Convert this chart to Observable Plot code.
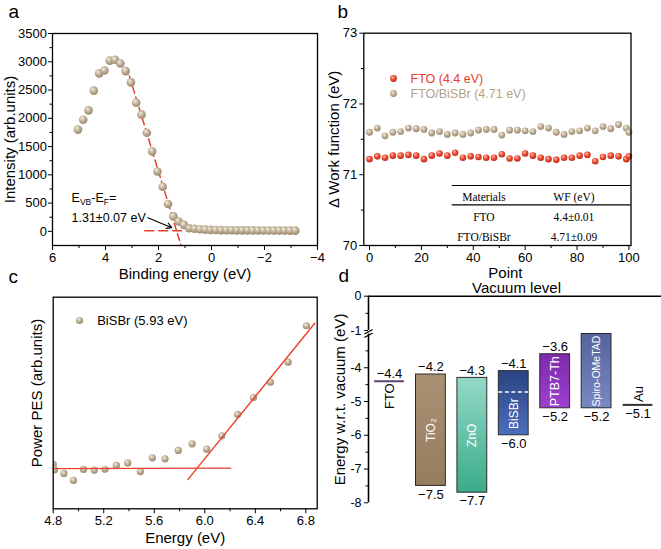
<!DOCTYPE html>
<html>
<head>
<meta charset="utf-8">
<script src="https://cdn.jsdelivr.net/npm/d3@7"></script>
<script src="https://cdn.jsdelivr.net/npm/@observablehq/plot@0.6"></script>
<style>
html,body{margin:0;padding:0;background:#fff;}
#fig{position:relative;width:661px;height:549px;overflow:hidden;background:#fff;}
#fig svg{position:absolute;left:0;top:0;}
</style>
</head>
<body>
<div id="fig"></div>
<script>
// ================= DATA =================
// Panel a: UPS spectrum
const aBinding = [5.04, 4.84, 4.64, 4.44, 4.24, 4.04, 3.84, 3.64, 3.44, 3.24, 3.04, 2.84, 2.64, 2.44, 2.24, 2.04, 1.84, 1.64, 1.44, 1.24, 1.04, 0.84, 0.64, 0.44, 0.24, 0.04, -0.16, -0.36, -0.56, -0.76, -0.96, -1.16, -1.36, -1.56, -1.76, -1.96, -2.16, -2.36, -2.56, -2.76, -2.96, -3.16];
const aIntensity = [1800, 1975, 2140, 2490, 2795, 2845, 3020, 3035, 2970, 2835, 2635, 2275, 2065, 1745, 1415, 1060, 790, 485, 265, 175, 115, 55, 45, 38, 30, 26, 24, 22, 21, 20, 18, 18, 17, 17, 16, 16, 15, 15, 14, 14, 13, 13];
const aFitSlopeX = [3.1, 1.15];
const aFitSlopeY = [2750, -246];
const aFitBaseX = [2.52, -3.24];
const aFitBaseY = [10, 10];
const aArrowFrom = [2.40, 240];
const aArrowTo = [1.50, 65];
const aXTicks = [6, 4, 2, 0, -2, -4];
const aXMinor = [5, 3, 1, -1, -3];
const aYTicks = [0, 500, 1000, 1500, 2000, 2500, 3000, 3500];
const aYMinor = [250, 750, 1250, 1750, 2250, 2750, 3250];

// Panel b: work function mapping
const bPoint = [0, 3, 6, 9, 12, 15, 18, 21, 24, 27, 30, 33, 36, 39, 42, 45, 48, 51, 54, 57, 60, 63, 66, 69, 72, 75, 78, 81, 84, 87, 90, 93, 96, 99, 100];
const bFTO = [71.22, 71.26, 71.24, 71.27, 71.27, 71.28, 71.27, 71.22, 71.27, 71.30, 71.27, 71.31, 71.24, 71.26, 71.25, 71.24, 71.24, 71.29, 71.23, 71.23, 71.30, 71.27, 71.24, 71.22, 71.21, 71.24, 71.24, 71.27, 71.28, 71.19, 71.25, 71.27, 71.26, 71.22, 71.26];
const bBiSBr = [71.60, 71.66, 71.55, 71.60, 71.61, 71.66, 71.65, 71.64, 71.59, 71.61, 71.57, 71.59, 71.57, 71.59, 71.63, 71.64, 71.64, 71.56, 71.63, 71.63, 71.62, 71.61, 71.68, 71.66, 71.60, 71.57, 71.61, 71.62, 71.66, 71.62, 71.68, 71.65, 71.71, 71.66, 71.60];
const bSeriesNames = ["FTO (4.4 eV)", "FTO/BiSBr (4.71 eV)"];
const bXTicks = [0, 20, 40, 60, 80, 100];
const bXMinor = [10, 30, 50, 70, 90];
const bYTicks = [70, 71, 72, 73];
const bYMinor = [70.5, 71.5, 72.5];
const tableHeader = ["Materials", "WF (eV)"];
const tableMaterial = ["FTO", "FTO/BiSBr"];
const tableWF = ["4.4\u00B10.01", "4.71\u00B10.09"];

// Panel c: photoelectron yield
const cEnergy = [4.80, 4.81, 4.885, 4.96, 5.04, 5.125, 5.21, 5.30, 5.39, 5.49, 5.585, 5.685, 5.79, 5.90, 6.015, 6.135, 6.26, 6.385, 6.52, 6.66, 6.805];
const cPES = [21, 18.5, 16.7, 13.4, 18.6, 18.3, 18.7, 20.5, 21.7, 17.6, 24.1, 23.6, 27.6, 30.7, 28.2, 34.5, 44.6, 52.6, 59.8, 69.3, 86.5];
const cFitBaseX = [4.785, 6.205];
const cFitBaseY = [19.0, 19.2];
const cFitSlopeX = [5.867, 6.871];
const cFitSlopeY = [13.9, 87.7];
const cXTicks = [4.8, 5.2, 5.6, 6.0, 6.4, 6.8];
const cXMinor = [5.0, 5.4, 5.8, 6.2, 6.6];
const cLegend = ["BiSBr (5.93 eV)"];

// Panel d: energy level diagram
const dOrder = ["FTO", "TiO\u2082", "ZnO", "BiSBr", "PTB7-Th", "Spiro-OMeTAD", "Au"];
const dBarNames = ["TiO\u2082", "ZnO", "BiSBr", "PTB7-Th", "Spiro-OMeTAD"];
const dBarTop = [-4.2, -4.3, -4.1, -3.6, -3.0];
const dBarBottom = [-7.5, -7.7, -6.0, -5.2, -5.2];
const dBarTopShown = [true, true, true, true, false];
const dLineNames = ["FTO", "Au"];
const dLineLevel = [-4.4, -5.1];
const dFermiBiSBr = -4.72;
const dYTicks = [0, -1, -4, -5, -6, -7, -8];
const dYMinor = [-0.5, -3.5, -4.5, -5.5, -6.5, -7.5];

// ================= STYLE / LAYOUT =================
const W = 661, H = 549;
const FONT = "'Liberation Sans', Arial, Helvetica, sans-serif";
const SERIF = "'Liberation Serif', 'Times New Roman', serif";
const RED = "#e8402a", TAN = "#b3a287";
const fig = document.getElementById("fig");
function base(f, extra = {}) {
  return {
    width: W, height: H,
    marginLeft: f.l, marginRight: W - f.r, marginTop: f.t, marginBottom: H - f.b,
    style: {background: "transparent", fontFamily: FONT, fontSize: "13px", color: "#000", overflow: "visible"},
    ...extra
  };
}
const fmtD = d3.format("d");
const fmt1 = d3.format(".1f");
const T = d => d;
const yTitle = (s, dx, dy = 0) => Plot.text([s], {text: T, frameAnchor: "left", dx, dy, rotate: -90, textAnchor: "middle", lineAnchor: "middle", fontSize: 15});

// ---------------- Panel a ----------------
const fA = {l: 52, r: 317, t: 33, b: 245};
const aData = aBinding.map((x, i) => ({x, y: aIntensity[i]}));
const aSlope = aFitSlopeX.map((x, i) => ({x, y: aFitSlopeY[i]}));
const aBase = aFitBaseX.map((x, i) => ({x, y: aFitBaseY[i]}));
const plotA = Plot.plot({
  ...base(fA),
  x: {domain: [6, -4]},
  y: {domain: [-250, 3500]},
  marks: [
    Plot.axisX({ticks: aXTicks, tickSize: 5, tickPadding: 2, label: null}),
    Plot.axisX({ticks: aXMinor, tickSize: 3, fill: "none", label: null}),
    Plot.axisY({ticks: aYTicks, tickSize: 4, tickPadding: 1.5, tickFormat: fmtD, label: null}),
    Plot.axisY({ticks: aYMinor, tickSize: 2.5, fill: "none", label: null}),
    Plot.line(aSlope, {x: "x", y: "y", stroke: RED, strokeWidth: 1.5, strokeDasharray: "7,4", clip: true}),
    Plot.line(aBase, {x: "x", y: "y", stroke: RED, strokeWidth: 1.5, strokeDasharray: "9,5", clip: true}),
    Plot.dot(aData, {x: "x", y: "y", r: 4.3, fill: "url(#sphTan)"}),
    Plot.arrow([0], {x1: aArrowFrom[0], y1: aArrowFrom[1], x2: aArrowTo[0], y2: aArrowTo[1], stroke: "#000", strokeWidth: 1.2, headLength: 7}),
    Plot.frame({strokeWidth: 1.3}),
    // annotation E_VB - E_F
    Plot.text(["E"], {text: T, frameAnchor: "top-left", dx: 19, dy: 168, textAnchor: "start", lineAnchor: "bottom", fontSize: 12.5}),
    Plot.text(["VB"], {text: T, frameAnchor: "top-left", dx: 27.4, dy: 171, textAnchor: "start", lineAnchor: "bottom", fontSize: 8.5}),
    Plot.text(["-E"], {text: T, frameAnchor: "top-left", dx: 38.8, dy: 168, textAnchor: "start", lineAnchor: "bottom", fontSize: 12.5}),
    Plot.text(["F"], {text: T, frameAnchor: "top-left", dx: 51.3, dy: 171, textAnchor: "start", lineAnchor: "bottom", fontSize: 8.5}),
    Plot.text(["="], {text: T, frameAnchor: "top-left", dx: 56.5, dy: 168, textAnchor: "start", lineAnchor: "bottom", fontSize: 12.5}),
    Plot.text(["1.31\u00B10.07 eV"], {text: T, frameAnchor: "top-left", dx: 19, dy: 188.5, textAnchor: "start", lineAnchor: "bottom", fontSize: 12.5}),
    // titles
    yTitle("Intensity (arb.units)", -42.5),
    Plot.text(["Binding energy (eV)"], {text: T, frameAnchor: "bottom", dy: 33.5, lineAnchor: "bottom", fontSize: 15}),
    Plot.text(["a"], {text: T, frameAnchor: "top-left", dx: -44, dy: -16, textAnchor: "start", lineAnchor: "bottom", fontSize: 19})
  ]
});

// ---------------- Panel b ----------------
const fB = {l: 363.3, r: 630.5, t: 32.7, b: 245};
const bFtoData = bPoint.map((x, i) => ({x, y: bFTO[i]}));
const bBiData = bPoint.map((x, i) => ({x, y: bBiSBr[i]}));
// table layout (in panel b coordinates)
const tabRuleY = [70.848, 70.575], tabX1 = 31.9, tabX2 = 100.8;
const tabColX = [44.1, 78.8], tabRowY = [70.683, 70.40, 70.117];
const tabText = [
  {x: tabColX[0], y: tabRowY[0], t: tableHeader[0]},
  {x: tabColX[1], y: tabRowY[0], t: tableHeader[1]},
  ...tableMaterial.map((m, i) => ({x: tabColX[0], y: tabRowY[i + 1], t: m})),
  ...tableWF.map((w, i) => ({x: tabColX[1], y: tabRowY[i + 1], t: w}))
];
const plotB = Plot.plot({
  ...base(fB),
  x: {domain: [-2.2, 100.8]},
  y: {domain: [70, 73]},
  marks: [
    Plot.axisX({ticks: bXTicks, tickSize: 5, tickPadding: 2, tickFormat: fmtD, label: null}),
    Plot.axisX({ticks: bXMinor, tickSize: 3, fill: "none", label: null}),
    Plot.axisY({ticks: bYTicks, tickSize: 4, tickPadding: 2.5, tickFormat: fmtD, label: null}),
    Plot.axisY({ticks: bYMinor, tickSize: 2.5, fill: "none", label: null}),
    Plot.ruleY(tabRuleY, {x1: tabX1, x2: tabX2, strokeWidth: 1.2}),
    Plot.text(tabText, {x: "x", y: "y", text: "t", fontFamily: SERIF, fontSize: 11.5, lineAnchor: "middle"}),
    Plot.dot(bBiData, {x: "x", y: "y", r: 3.4, fill: "url(#sphTan)"}),
    Plot.dot(bFtoData, {x: "x", y: "y", r: 3.3, fill: "url(#sphRed)"}),
    Plot.frame({strokeWidth: 1.3}),
    // legend
    Plot.dot([0], {frameAnchor: "top-left", dx: 29.7, dy: 45.3, r: 3.4, fill: "url(#sphRed)"}),
    Plot.dot([0], {frameAnchor: "top-left", dx: 29.7, dy: 60.3, r: 3.4, fill: "url(#sphTan)"}),
    Plot.text([bSeriesNames[0]], {text: T, frameAnchor: "top-left", dx: 46.7, dy: 45.3, textAnchor: "start", lineAnchor: "middle", fontSize: 12.5, fill: RED}),
    Plot.text([bSeriesNames[1]], {text: T, frameAnchor: "top-left", dx: 46.7, dy: 60.3, textAnchor: "start", lineAnchor: "middle", fontSize: 12.5, fill: TAN}),
    // titles
    yTitle("\u0394 Work function (eV)", -30),
    Plot.text(["Point"], {text: T, frameAnchor: "bottom", dx: 8, dy: 32.5, lineAnchor: "bottom", fontSize: 15}),
    Plot.text(["b"], {text: T, frameAnchor: "top-left", dx: -26.3, dy: -15.7, textAnchor: "start", lineAnchor: "bottom", fontSize: 19})
  ]
});

// ---------------- Panel c ----------------
const fC = {l: 52.7, r: 316.7, t: 296.7, b: 508.3};
const cData = cEnergy.map((x, i) => ({x, y: cPES[i]}));
const cBase = cFitBaseX.map((x, i) => ({x, y: cFitBaseY[i]}));
const cSlope = cFitSlopeX.map((x, i) => ({x, y: cFitSlopeY[i]}));
const plotC = Plot.plot({
  ...base(fC),
  x: {domain: [4.8, 6.89]},
  y: {domain: [0, 100], axis: null},
  marks: [
    Plot.axisX({ticks: cXTicks, tickSize: 5, tickPadding: 2, tickFormat: fmt1, label: null}),
    Plot.axisX({ticks: cXMinor, tickSize: 3, fill: "none", label: null}),
    Plot.dot(cData, {x: "x", y: "y", r: 3.6, fill: "url(#sphTan)", clip: true}),
    Plot.line(cBase, {x: "x", y: "y", stroke: RED, strokeWidth: 1.4, clip: true}),
    Plot.line(cSlope, {x: "x", y: "y", stroke: RED, strokeWidth: 1.4, clip: true}),
    Plot.frame({strokeWidth: 1.3}),
    Plot.dot([0], {frameAnchor: "top-left", dx: 26.3, dy: 23.3, r: 3.6, fill: "url(#sphTan)"}),
    Plot.text(cLegend, {text: T, frameAnchor: "top-left", dx: 44, dy: 23.3, textAnchor: "start", lineAnchor: "middle", fontSize: 13}),
    yTitle("Power PES (arb.units)", -16, -10),
    Plot.text(["Energy (eV)"], {text: T, frameAnchor: "bottom", dy: 34.2, lineAnchor: "bottom", fontSize: 15}),
    Plot.text(["c"], {text: T, frameAnchor: "top-left", dx: -44.7, dy: -14.7, textAnchor: "start", lineAnchor: "bottom", fontSize: 19})
  ]
});

// ---------------- Panel d ----------------
const fD = {l: 368, r: 661, t: 295.7, b: 502.3};
const dX0 = -0.507, dX1 = 6.567, half = 0.36;
// broken axis: 0..-1 normal, -1..-3 compressed, -3..-8 normal
const dBreak = v => v >= -1 ? v * 34.3 : v >= -3 ? -34.3 + (v + 1) * 1.75 : -37.8 + (v + 3) * 33.76;
const dTickLabel = new Map(dYTicks.map(v => [dBreak(v), v === 0 ? "0" : "-" + Math.abs(v)]));
const pos = n => dOrder.indexOf(n);
const bars = dBarNames.map((n, i) => ({name: n, p: pos(n), top: dBarTop[i], bottom: dBarBottom[i], showTop: dBarTopShown[i]}));
const lines = dLineNames.map((n, i) => ({name: n, p: pos(n), level: dLineLevel[i]}));
const barFill = {"TiO\u2082": "url(#gTiO2)", "ZnO": "url(#gZnO)", "BiSBr": "url(#gBiSBr)", "PTB7-Th": "url(#gPTB7)", "Spiro-OMeTAD": "url(#gSpiro)"};
const barLabelSize = {"Spiro-OMeTAD": 10.5, "PTB7-Th": 12.5};
const barLabelMid = b => b.name === "BiSBr" ? (dFermiBiSBr + b.bottom) / 2 : (b.top + b.bottom) / 2;
const lineColor = {"FTO": "#5d4470", "Au": "#333"};
const plotD = Plot.plot({
  ...base(fD),
  x: {domain: [dX0, dX1], axis: null},
  y: {transform: dBreak, domain: [dBreak(-8), dBreak(0)]},
  marks: [
    // axis marks take their ticks directly in the (broken) scale units
    Plot.axisY({ticks: dYTicks.map(dBreak), tickSize: 4, tickPadding: 3, tickFormat: t => dTickLabel.get(t), label: null, fontSize: 12.5}),
    Plot.axisY({ticks: dYMinor.map(dBreak), tickSize: 2.5, fill: "none", label: null}),
    // axis line with break
    Plot.ruleX([dX0], {y1: 0, y2: -1.03, strokeWidth: 1.6}),
    Plot.ruleX([dX0], {y1: -3, y2: -8, strokeWidth: 1.6}),
    Plot.link([0], {x1: dX0 - 0.1, y1: -3.0, x2: dX0 + 0.1, y2: -0.971, strokeWidth: 1.3}),
    Plot.link([0], {x1: dX0 - 0.1, y1: -3.104, x2: dX0 + 0.1, y2: -2.43, strokeWidth: 1.3}),
    Plot.ruleY([0], {strokeWidth: 1.6}),
    // bars
    ...bars.map(b => Plot.rect([b], {x1: d => d.p - half, x2: d => d.p + half, y1: "bottom", y2: "top", fill: barFill[b.name], stroke: "#2b2b2b", strokeWidth: 1})),
    Plot.ruleY([dFermiBiSBr], {x1: pos("BiSBr") - half, x2: pos("BiSBr") + half, stroke: "white", strokeWidth: 1.6, strokeDasharray: "4,2.5"}),
    Plot.ruleY(lines, {y: "level", x1: d => d.p - half, x2: d => d.p + half, stroke: d => lineColor[d.name], strokeWidth: 2}),
    // value labels
    Plot.text(bars.filter(b => b.showTop), {x: "p", y: "top", text: d => fmt1(d.top), dy: -7.5, lineAnchor: "middle", fontSize: 13}),
    Plot.text(bars, {x: "p", y: "bottom", text: d => fmt1(d.bottom), dy: 8.6, lineAnchor: "middle", fontSize: 13}),
    Plot.text(lines.filter(l => l.name === "FTO"), {x: "p", y: "level", text: d => fmt1(d.level), dy: -7, lineAnchor: "middle", fontSize: 13}),
    Plot.text(lines.filter(l => l.name === "Au"), {x: "p", y: "level", text: d => fmt1(d.level), dy: 8.5, lineAnchor: "middle", fontSize: 13}),
    // names
    ...bars.map(b => Plot.text([b], {x: "p", y: barLabelMid, text: "name", rotate: -90, fill: "white", lineAnchor: "middle", fontSize: barLabelSize[b.name] || 12})),
    Plot.text(lines.filter(l => l.name === "FTO"), {x: "p", y: "level", text: "name", rotate: -90, textAnchor: "end", lineAnchor: "middle", dx: 0.5, dy: 2, fontSize: 13}),
    Plot.text(lines.filter(l => l.name === "Au"), {x: "p", y: "level", text: "name", rotate: -90, textAnchor: "start", lineAnchor: "middle", dx: 0.5, dy: -3, fontSize: 13}),
    // titles
    Plot.text(["Vacuum level"], {text: T, frameAnchor: "top", dx: 1.5, dy: -3.4, lineAnchor: "bottom", fontSize: 15}),
    yTitle("Energy w.r.t. vacuum (eV)", -28),
    Plot.text(["d"], {text: T, frameAnchor: "top-left", dx: -30, dy: -14.7, textAnchor: "start", lineAnchor: "bottom", fontSize: 19})
  ]
});

[plotA, plotB, plotC, plotD].forEach(s => fig.appendChild(s));

// gradients (shared definitions)
const defs = d3.select(plotA).insert("defs", ":first-child");
function lin(id, c0, c1) {
  const g = defs.append("linearGradient").attr("id", id).attr("x1", 0).attr("y1", 0).attr("x2", 0).attr("y2", 1);
  g.append("stop").attr("offset", "0%").attr("stop-color", c0);
  g.append("stop").attr("offset", "100%").attr("stop-color", c1);
}
function sph(id, c0, c1, c2) {
  const g = defs.append("radialGradient").attr("id", id).attr("cx", "45%").attr("cy", "42%").attr("r", "60%").attr("fx", "35%").attr("fy", "30%");
  g.append("stop").attr("offset", "0%").attr("stop-color", c0);
  g.append("stop").attr("offset", "55%").attr("stop-color", c1);
  g.append("stop").attr("offset", "100%").attr("stop-color", c2);
}
sph("sphTan", "#f3eee4", "#bfae94", "#94846a");
sph("sphRed", "#ffc2b4", "#ec4a30", "#b8261a");
lin("gTiO2", "#a99274", "#977c5f");
lin("gZnO", "#93d9c8", "#3aab8b");
lin("gBiSBr", "#2a4482", "#4b6dbd");
lin("gPTB7", "#7d2aac", "#9d40d0");
lin("gSpiro", "#55649a", "#7888c2");
</script>
</body>
</html>
